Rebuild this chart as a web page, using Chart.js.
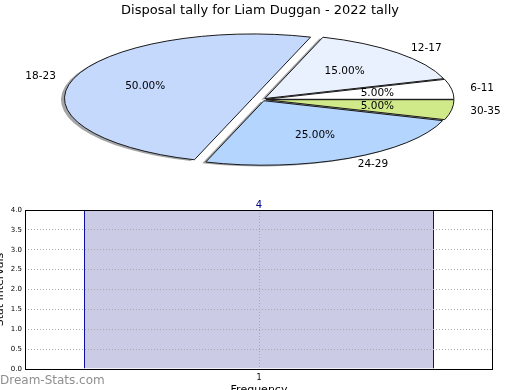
<!DOCTYPE html>
<html>
<head>
<meta charset="utf-8">
<script src="https://cdn.jsdelivr.net/npm/chart.js@4/dist/chart.umd.min.js"></script>
<style>
  html, body { margin: 0; padding: 0; background: #fff; overflow: hidden; }
  #wrap { position: relative; width: 520px; height: 390px; overflow: hidden; }
  #pie { position: absolute; left: 0; top: 0; }
  #bar { position: absolute; left: -10px; top: 190px; }
  #mark { position: absolute; left: 0; top: 373px; font: 12px "DejaVu Sans"; color: #8f8f8f; line-height: 15px; }
</style>
</head>
<body>
<div id="wrap">
  <canvas id="bar" width="515" height="215"></canvas>
  <canvas id="pie" width="520" height="195"></canvas>
  <div id="mark">Dream-Stats.com</div>
</div>
<script>
// pie data, clockwise from east (same as the reference counter-clockwise order reversed)
const pieLabels = ["30-35", "24-29", "18-23", "12-17", "6-11"];
const pieCounts = [1, 5, 10, 3, 1];
const pieColors = ["#d0ea8a", "#b4d5fe", "#c5d9fd", "#eaf1fe", "#ffffff"];
const pieExplode = [4, 4, 10, 4, 4];

// histogram data
const barLabels = ["1"];
const barValues = [4];
const yTicksMax = 4;

Chart.defaults.font.family = "'DejaVu Sans', sans-serif";
Chart.defaults.color = "#000";

// the pie is squashed into an ellipse like the original picture
const PIE_CX = 262, PIE_CY = 99.5, PIE_KY = 0.343;

function pieTransform(ctx, el) {
  ctx.translate(PIE_CX, PIE_CY);
  ctx.scale(1, PIE_KY);
  ctx.translate(-el.x, -el.y);
}

function slicePath(ctx, el, ex, dx, dy) {
  const mid = (el.startAngle + el.endAngle) / 2;
  const x = el.x + Math.cos(mid) * ex;
  const y = el.y + Math.sin(mid) * ex;
  ctx.save();
  ctx.translate(dx, dy);
  pieTransform(ctx, el);
  ctx.beginPath();
  ctx.moveTo(x, y);
  ctx.arc(x, y, el.outerRadius, el.startAngle, el.endAngle);
  ctx.closePath();
  ctx.restore();
}

function toScreen(el, x, y) {
  return [PIE_CX + (x - el.x), PIE_CY + (y - el.y) * PIE_KY];
}

const ellipsePie = {
  id: "ellipsePie",
  beforeDatasetsDraw(chart) {
    const ctx = chart.ctx;
    const arcs = chart.getDatasetMeta(0).data;
    const total = pieCounts.reduce((a, b) => a + b, 0);

    // shadows
    arcs.forEach((el, i) => {
      slicePath(ctx, el, pieExplode[i], -3.5, 1.3);
      ctx.fillStyle = "rgba(50,55,65,0.45)";
      ctx.fill();
    });

    // fills
    arcs.forEach((el, i) => {
      const mid = (el.startAngle + el.endAngle) / 2;
      ctx.save();
      pieTransform(ctx, el);
      ctx.translate(Math.cos(mid) * pieExplode[i], Math.sin(mid) * pieExplode[i]);
      el.draw(ctx);
      ctx.restore();
    });

    // outlines
    arcs.forEach((el, i) => {
      slicePath(ctx, el, pieExplode[i], 0, 0);
      ctx.lineWidth = 1;
      ctx.strokeStyle = "#1a1a1a";
      ctx.lineJoin = "round";
      ctx.stroke();
    });

    // labels
    ctx.save();
    ctx.font = "10.5px 'DejaVu Sans'";
    ctx.fillStyle = "#000";
    ctx.textBaseline = "middle";
    arcs.forEach((el, i) => {
      const mid = (el.startAngle + el.endAngle) / 2;
      const cx = el.x + Math.cos(mid) * pieExplode[i];
      const cy = el.y + Math.sin(mid) * pieExplode[i];
      const r = el.outerRadius;
      let p = toScreen(el, cx + Math.cos(mid) * r * 1.1, cy + Math.sin(mid) * r * 1.1);
      ctx.textAlign = Math.cos(mid) > 0 ? "left" : "right";
      ctx.fillText(pieLabels[i], p[0], p[1]);
      p = toScreen(el, cx + Math.cos(mid) * r * 0.6, cy + Math.sin(mid) * r * 0.6);
      ctx.textAlign = "center";
      ctx.fillText((pieCounts[i] / total * 100).toFixed(2) + "%", p[0], p[1]);
    });
    ctx.restore();
    return false;
  }
};

new Chart(document.getElementById("pie"), {
  type: "pie",
  data: {
    labels: pieLabels,
    datasets: [{
      data: pieCounts,
      backgroundColor: pieColors,
      borderWidth: 0
    }]
  },
  options: {
    responsive: false,
    animation: false,
    devicePixelRatio: 1,
    rotation: 90,
    radius: 188,
    events: [],
    plugins: {
      legend: { display: false },
      tooltip: { enabled: false },
      title: {
        display: true,
        text: "Disposal tally for Liam Duggan - 2022 tally",
        color: "#000",
        font: { size: 13, weight: "normal" },
        padding: { top: 3, bottom: 2 }
      }
    }
  },
  plugins: [ellipsePie]
});

const barExtras = {
  id: "barExtras",
  afterDraw(chart) {
    const ctx = chart.ctx;
    const a = chart.chartArea;
    ctx.save();
    ctx.strokeStyle = "#000";
    ctx.lineWidth = 1;
    ctx.strokeRect(Math.round(a.left) + 0.5, Math.round(a.top) + 0.5,
      Math.round(a.right - a.left) - 1, Math.round(a.bottom - a.top));
    ctx.fillStyle = "#000088";
    ctx.font = "10px 'DejaVu Sans'";
    ctx.textAlign = "center";
    ctx.textBaseline = "bottom";
    chart.getDatasetMeta(0).data.forEach((el, i) => {
      ctx.fillText(String(barValues[i]), el.x, el.y);
    });
    ctx.restore();
  }
};

new Chart(document.getElementById("bar"), {
  type: "bar",
  data: {
    labels: barLabels,
    datasets: [{
      data: barValues,
      backgroundColor: "#cbcbe5",
      borderColor: "#000099",
      borderWidth: 1,
      borderSkipped: "start",
      barPercentage: 0.748,
      categoryPercentage: 1
    }]
  },
  options: {
    responsive: false,
    animation: false,
    devicePixelRatio: 1,
    events: [],
    layout: { padding: { top: 20, right: 12, left: 0, bottom: 0 } },
    plugins: {
      legend: { display: false },
      tooltip: { enabled: false }
    },
    scales: {
      x: {
        offset: true,
        grid: { z: 1, offset: false, color: "#aaaaaa", drawTicks: false },
        border: { display: false, dash: [1, 2] },
        ticks: { font: { size: 8 }, padding: 4 },
        title: { display: true, text: "Frequency", font: { size: 11 }, padding: { top: 0, bottom: 8 } },
        afterFit(s) { s.height = 36; }
      },
      y: {
        min: 0,
        max: yTicksMax,
        grid: { z: 1, color: "#aaaaaa", drawTicks: false },
        border: { display: false, dash: [1, 2] },
        ticks: {
          stepSize: 0.5,
          font: { size: 7 },
          padding: 3,
          callback: v => Number(v).toFixed(1)
        },
        title: { display: true, text: "Stat Intervals", font: { size: 11 } },
        afterFit(s) { s.width = 35; }
      }
    }
  },
  plugins: [barExtras]
});
</script>
</body>
</html>
